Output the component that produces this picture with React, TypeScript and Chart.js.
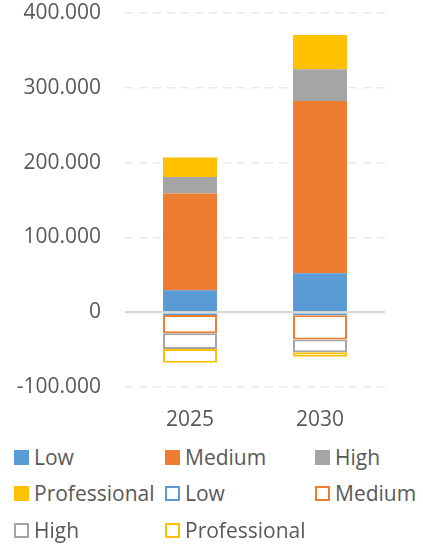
import React, { useEffect, useRef } from "react";
import { Chart, registerables } from "chart.js";

Chart.register(...registerables);

const categories = ["2025", "2030"];
const seriesNames = ["Low", "Medium", "High", "Professional"];
const lowValues = [29400, 52100];
const mediumValues = [129300, 230400];
const highValues = [22200, 42400];
const professionalValues = [25900, 45800];
const lowNegValues = [-3600, -4000];
const mediumNegValues = [-24500, -32400];
const highNegValues = [-21000, -17100];
const professionalNegValues = [-18600, -5900];
const yTickMin = -100000;
const yTickMax = 400000;
const yTickStep = 100000;

const colors = ["#5B9BD5", "#ED7D31", "#A5A5A5", "#FFC000"];
const FONT = "'Open Sans', sans-serif";
const FONT_SIZE = 21;
const TEXT = "#595959";

function fmt(v: number): string {
  if (v === 0) return "0";
  const neg = v < 0;
  const a = Math.abs(v);
  const th = Math.floor(a / 1000);
  const rest = String(a % 1000).padStart(3, "0");
  return (neg ? "-" : "") + th + "." + rest;
}

const zeroLinePlugin = {
  id: "zeroLine",
  afterDatasetsDraw(chart: any) {
    const y = chart.scales.y;
    const area = chart.chartArea;
    const py = y.getPixelForValue(0);
    const ctx = chart.ctx;
    ctx.save();
    ctx.strokeStyle = "#D9D9D9";
    ctx.lineWidth = 2;
    ctx.beginPath();
    ctx.moveTo(area.left, py);
    ctx.lineTo(area.right, py);
    ctx.stroke();
    ctx.restore();
  },
};

export default function App() {
  const ref = useRef<HTMLCanvasElement>(null);
  useEffect(() => {
    if (!ref.current) return;
    const pos = [lowValues, mediumValues, highValues, professionalValues];
    const neg = [lowNegValues, mediumNegValues, highNegValues, professionalNegValues];
    const datasets: any[] = [];
    pos.forEach((d, i) =>
      datasets.push({
        label: seriesNames[i],
        data: d,
        backgroundColor: colors[i],
        borderWidth: 0,
        stack: "s",
        barPercentage: 0.83,
        categoryPercentage: 0.5,
      })
    );
    neg.forEach((d, i) =>
      datasets.push({
        label: seriesNames[i],
        data: d,
        backgroundColor: "#FFFFFF",
        borderColor: colors[i],
        borderWidth: 2,
        borderSkipped: false,
        stack: "s",
        barPercentage: 0.83,
        categoryPercentage: 0.5,
      })
    );
    const chart = new Chart(ref.current, {
      type: "bar",
      data: { labels: categories, datasets },
      plugins: [zeroLinePlugin],
      options: {
        animation: false,
        responsive: false,
        maintainAspectRatio: false,
        layout: { padding: { top: 13, right: 38, bottom: 0, left: 0 } },
        plugins: { legend: { display: false }, tooltip: { enabled: false } },
        scales: {
          x: {
            stacked: true,
            grid: { display: false, drawTicks: false },
            border: { display: false },
            ticks: { color: TEXT, font: { family: FONT, size: FONT_SIZE }, padding: 20 },
            afterFit: (s: any) => {
              s.height = 48;
              s.paddingLeft = 0;
              s.paddingRight = 0;
            },
          },
          y: {
            stacked: true,
            min: yTickMin,
            max: yTickMax,
            ticks: {
              stepSize: yTickStep,
              color: TEXT,
              font: { family: FONT, size: FONT_SIZE },
              padding: 24,
              callback: (v: any) => fmt(Number(v)),
            },
            border: {
              display: false,
              dash: (c: any) => (c.tick && c.tick.value === 0 ? [] : [8, 6]),
            },
            grid: {
              drawTicks: false,
              color: (c: any) => (c.tick && c.tick.value === 0 ? "#D9D9D9" : "#E8E8E8"),
              lineWidth: (c: any) => (c.tick && c.tick.value === 0 ? 2 : 1.5),
            },
            afterFit: (s: any) => {
              s.width = 125;
              s.paddingTop = 0;
              s.paddingBottom = 0;
            },
          },
        },
      },
    });
    return () => chart.destroy();
  }, []);

  const legendItems = [
    { name: "Low", c: colors[0], fill: true, col: 0, row: 0 },
    { name: "Medium", c: colors[1], fill: true, col: 1, row: 0 },
    { name: "High", c: colors[2], fill: true, col: 2, row: 0 },
    { name: "Professional", c: colors[3], fill: true, col: 0, row: 1 },
    { name: "Low", c: colors[0], fill: false, col: 1, row: 1 },
    { name: "Medium", c: colors[1], fill: false, col: 2, row: 1 },
    { name: "High", c: colors[2], fill: false, col: 0, row: 2 },
    { name: "Professional", c: colors[3], fill: false, col: 1, row: 2 },
  ];
  const colX = [14, 165, 315];
  const rowY = [457, 493, 530];

  return (
    <div style={{ position: "fixed", left: 0, top: 0, width: 423, height: 544, background: "#fff" }}>
      <canvas ref={ref} width={423} height={435} style={{ display: "block" }} />
      {legendItems.map((it, i) => (
        <div
          key={i}
          style={{
            position: "absolute",
            left: colX[it.col],
            top: rowY[it.row] - 15,
            height: 30,
            display: "flex",
            alignItems: "center",
            fontFamily: FONT,
            fontSize: FONT_SIZE,
            lineHeight: "30px",
            color: TEXT,
            whiteSpace: "nowrap",
          }}
        >
          <span
            style={{
              display: "inline-block",
              width: 15,
              height: 15,
              boxSizing: "border-box",
              background: it.fill ? it.c : "#fff",
              border: it.fill ? "none" : `2px solid ${it.c}`,
              marginRight: 5,
            }}
          />
          {it.name}
        </div>
      ))}
    </div>
  );
}
